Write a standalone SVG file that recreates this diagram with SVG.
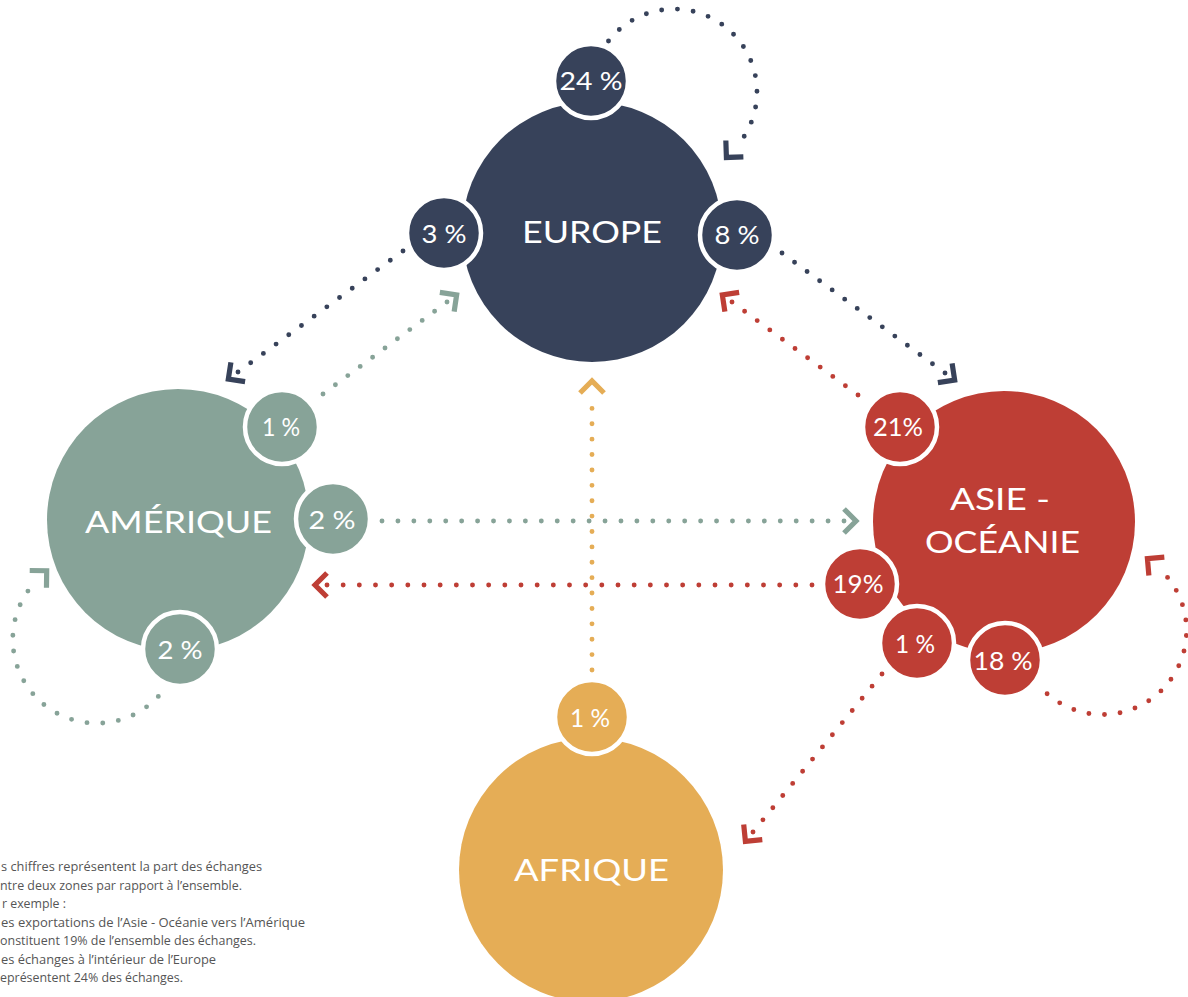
<svg xmlns="http://www.w3.org/2000/svg" width="1188" height="997" viewBox="0 0 1188 997">
<style>
.bg{fill:#ffffff}
.dot{fill:none;stroke-width:4.9;stroke-linecap:round;stroke-dasharray:0 1}
.navy{fill:#37425a}
.sage{fill:#87a398}
.red{fill:#be3e35}
.yellow{fill:#e5ad56}
.sm{stroke:#ffffff;stroke-width:4.5}
.big{font-family:Lato,"Open Sans",sans-serif;font-size:30px;fill:#ffffff;text-anchor:middle}
.pct{font-family:Lato,"Open Sans",sans-serif;font-size:25px;fill:#ffffff;text-anchor:middle}
.note{font-family:"Open Sans","Noto Sans",sans-serif;font-size:12px;fill:#555555}
.chev{fill:none;stroke-width:5.2;stroke-linejoin:miter}
</style>
<defs>
<marker id="m-navy" markerUnits="userSpaceOnUse" orient="auto" markerWidth="30" markerHeight="30" refX="0" refY="0" overflow="visible"><path class="chev" d="M0,-12 L12,0 L0,12" stroke="#37425a"/></marker>
<marker id="m-sage" markerUnits="userSpaceOnUse" orient="auto" markerWidth="30" markerHeight="30" refX="0" refY="0" overflow="visible"><path class="chev" d="M0,-12 L12,0 L0,12" stroke="#87a398"/></marker>
<marker id="m-red" markerUnits="userSpaceOnUse" orient="auto" markerWidth="30" markerHeight="30" refX="0" refY="0" overflow="visible"><path class="chev" d="M0,-12 L12,0 L0,12" stroke="#be3e35"/></marker>
<marker id="m-yellow" markerUnits="userSpaceOnUse" orient="auto" markerWidth="30" markerHeight="30" refX="0" refY="0" overflow="visible"><path class="chev" d="M0,-12 L12,0 L0,12" stroke="#e5ad56"/></marker>
</defs>
<rect class="bg" x="0" y="0" width="1188" height="997"/>

<g id="connectors">
<path class="dot" stroke="#37425a" pathLength="17" marker-end="url(#m-navy)" d="M608.5,41 A83,83 0 1 1 734.6,148.7"/>
<path class="dot" stroke="#37425a" pathLength="13" marker-end="url(#m-navy)" d="M403,251 L238,372"/>
<path class="dot" stroke="#87a398" pathLength="10" marker-end="url(#m-sage)" d="M323,394 L447,302"/>
<path class="dot" stroke="#37425a" pathLength="13" marker-end="url(#m-navy)" d="M782,253 L945,373"/>
<path class="dot" stroke="#be3e35" pathLength="10" marker-end="url(#m-red)" d="M858,395 L732,302"/>
<path class="dot" stroke="#87a398" pathLength="29" marker-end="url(#m-sage)" d="M382,521 L844,521"/>
<path class="dot" stroke="#be3e35" pathLength="30" marker-end="url(#m-red)" d="M812,585 L327,585"/>
<path class="dot" stroke="#e5ad56" pathLength="18" marker-end="url(#m-yellow)" d="M592,670 L592,393"/>
<path class="dot" stroke="#87a398" pathLength="17" marker-end="url(#m-sage)" d="M158.3,696.4 A84,84 0 1 1 38.1,579.1"/>
<path class="dot" stroke="#be3e35" pathLength="17" marker-end="url(#m-red)" d="M1047.1,693.7 A84,84 0 1 0 1156.6,566.3"/>
<path class="dot" stroke="#be3e35" pathLength="13" marker-end="url(#m-red)" d="M882,674 L753,832"/>
</g>

<g id="europe">
<circle class="navy" cx="592" cy="232" r="130"/>
<text class="big" x="592" y="243" font-size="31" textLength="140" lengthAdjust="spacingAndGlyphs">EUROPE</text>
<circle class="navy sm" cx="591" cy="81" r="37"/>
<text class="pct" x="591" y="90" textLength="63" lengthAdjust="spacingAndGlyphs">24 %</text>
<circle class="navy sm" cx="444" cy="233" r="37"/>
<text class="pct" x="444" y="243" textLength="45" lengthAdjust="spacingAndGlyphs">3 %</text>
<circle class="navy sm" cx="737" cy="235" r="37"/>
<text class="pct" x="737" y="244" textLength="45" lengthAdjust="spacingAndGlyphs">8 %</text>
</g>

<g id="amerique">
<circle class="sage" cx="178" cy="520" r="131"/>
<text class="big" x="178.5" y="533" textLength="187" lengthAdjust="spacingAndGlyphs">AMÉRIQUE</text>
<circle class="sage sm" cx="282" cy="427" r="37"/>
<text class="pct" x="281" y="436" textLength="38" lengthAdjust="spacingAndGlyphs">1 %</text>
<circle class="sage sm" cx="333" cy="519" r="37"/>
<text class="pct" x="332" y="529" textLength="47" lengthAdjust="spacingAndGlyphs">2 %</text>
<circle class="sage sm" cx="180" cy="649" r="37"/>
<text class="pct" x="180" y="659" textLength="45" lengthAdjust="spacingAndGlyphs">2 %</text>
</g>

<g id="asie">
<circle class="red" cx="1004" cy="522" r="131"/>
<text class="big" x="1000" y="510" textLength="100" lengthAdjust="spacingAndGlyphs">ASIE -</text>
<text class="big" x="1002.5" y="553" textLength="155" lengthAdjust="spacingAndGlyphs">OCÉANIE</text>
<circle class="red sm" cx="900" cy="427" r="37"/>
<text class="pct" x="898" y="436" textLength="50" lengthAdjust="spacingAndGlyphs">21%</text>
<circle class="red sm" cx="860" cy="584" r="37"/>
<text class="pct" x="858" y="593" textLength="51" lengthAdjust="spacingAndGlyphs">19%</text>
<circle class="red sm" cx="917" cy="643" r="37"/>
<text class="pct" x="915" y="653" textLength="40" lengthAdjust="spacingAndGlyphs">1 %</text>
<circle class="red sm" cx="1005" cy="660" r="37"/>
<text class="pct" x="1003" y="670" textLength="59" lengthAdjust="spacingAndGlyphs">18 %</text>
</g>

<g id="afrique">
<circle class="yellow" cx="591" cy="870" r="132"/>
<text class="big" x="591.5" y="881" textLength="155" lengthAdjust="spacingAndGlyphs">AFRIQUE</text>
<circle class="yellow sm" cx="592" cy="717" r="37"/>
<text class="pct" x="590" y="727" textLength="40" lengthAdjust="spacingAndGlyphs">1 %</text>
</g>

<g id="note">
<text class="note" x="1" y="871" textLength="261" lengthAdjust="spacingAndGlyphs">s chiffres représentent la part des échanges</text>
<text class="note" x="0" y="889.5" textLength="242" lengthAdjust="spacingAndGlyphs">ntre deux zones par rapport à l’ensemble.</text>
<text class="note" x="2" y="908" textLength="64" lengthAdjust="spacingAndGlyphs">r exemple :</text>
<text class="note" x="1" y="926.5" textLength="304" lengthAdjust="spacingAndGlyphs">es exportations de l’Asie - Océanie vers l’Amérique</text>
<text class="note" x="0" y="945" textLength="256" lengthAdjust="spacingAndGlyphs">onstituent 19% de l’ensemble des échanges.</text>
<text class="note" x="1" y="963.5" textLength="215" lengthAdjust="spacingAndGlyphs">es échanges à l’intérieur de l’Europe</text>
<text class="note" x="0" y="982" textLength="183" lengthAdjust="spacingAndGlyphs">eprésentent 24% des échanges.</text>
</g>
</svg>
